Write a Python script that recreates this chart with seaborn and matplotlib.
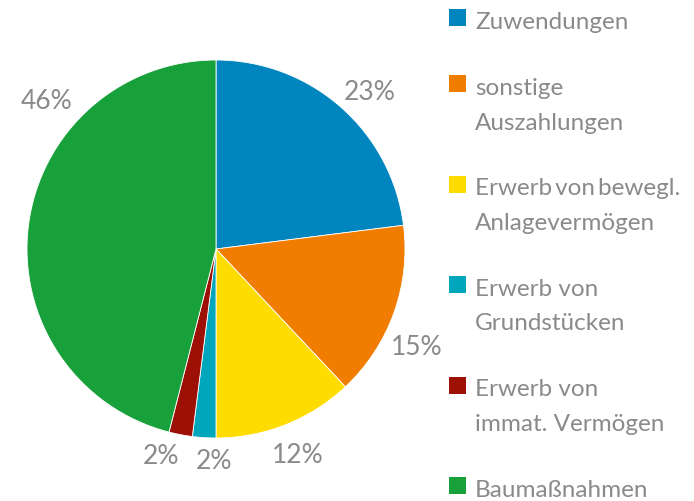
import numpy as np
import seaborn as sns
import matplotlib.pyplot as plt
from matplotlib.patches import Rectangle

categories = ['Zuwendungen', 'sonstige\nAuszahlungen', 'Erwerb\u2009von\u2009bewegl.\nAnlagevermögen',
              'Erwerb von\nGrundstücken', 'Erwerb von\nimmat. Vermögen', 'Baumaßnahmen']
shares = [23, 15, 12, 2, 2, 46]
colors = ['#0085bf', '#f07d00', '#ffdc00', '#00a6bb', '#9d1006', '#18a03a']

sns.set_theme(style='white')
plt.rcParams['font.family'] = ['Lato', 'DejaVu Sans']
grey = '#8a8a8a'

W, H = 694, 502
fig = plt.figure(figsize=(W / 100, H / 100), dpi=100)
ax = fig.add_axes([27 / W, 63 / H, 378 / W, 378 / H])

wedges, _ = ax.pie(shares, colors=colors, startangle=90, counterclock=False,
                   wedgeprops=dict(edgecolor='white', linewidth=0.6))
ax.set_xlim(-1, 1)
ax.set_ylim(-1, 1)
ax.set_aspect('equal')

# small angle nudges / distances so labels sit like the original
nudge = [3, 6, 0, -3, 4, 34]
dist = [1.165, 1.18, 1.17, 1.12, 1.13, 1.19]
for w, s, n, d in zip(wedges, shares, nudge, dist):
    ang = np.deg2rad((w.theta1 + w.theta2) / 2 - n)
    ax.text(d * np.cos(ang), d * np.sin(ang), f'{s}%', ha='center', va='center',
            fontsize=19, color=grey, clip_on=False)

# legend drawn by hand so the square sits on the first text line
line_step, gap = 34.5, 31.5
base = 29
sq = 17
for lab, c in zip(categories, colors):
    lines = lab.split('\n')
    fig.add_artist(Rectangle((449 / W, 1 - (base - 2) / H), sq / W, sq / H,
                             transform=fig.transFigure, facecolor=c, edgecolor='none'))
    for i, ln in enumerate(lines):
        fig.text(475 / W, 1 - (base + i * line_step) / H, ln, ha='left', va='baseline',
                 fontsize=17.5, color=grey)
    base += len(lines) * line_step + gap

fig.savefig('out.png', dpi=100)
